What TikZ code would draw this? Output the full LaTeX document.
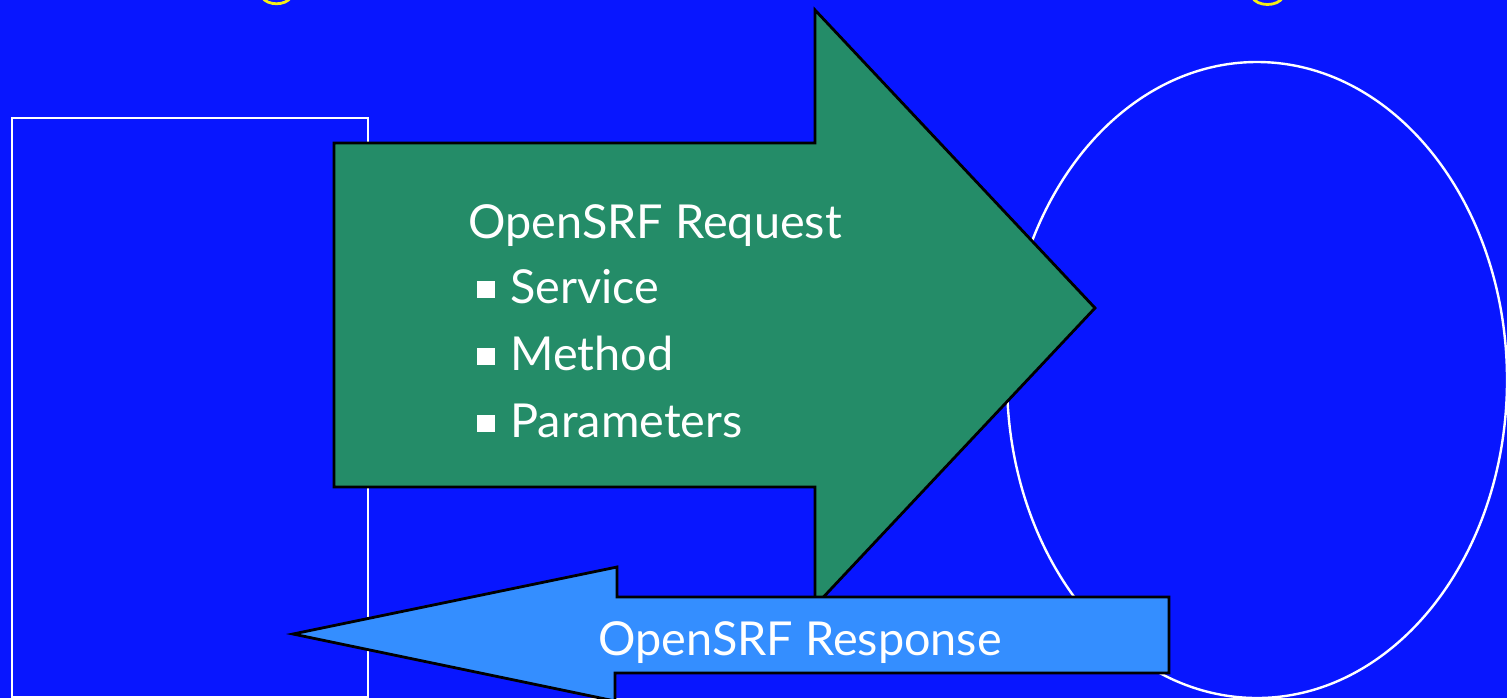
\documentclass[tikz,border=0pt]{standalone}
\usepackage{fontspec}
\setmainfont{Lato}
\definecolor{slideblue}{RGB}{8,22,255}
\definecolor{reqgreen}{RGB}{36,140,104}
\definecolor{respblue}{RGB}{52,142,255}
\definecolor{titleyellow}{RGB}{245,240,20}

\begin{document}
\begin{tikzpicture}[x=0.5pt, y=-0.5pt,
	txt/.style = {text=white, font=\fontsize{23.4}{28}\selectfont, anchor=base west, inner sep=0pt},
	bullet/.style = {txt},
	bigarrow/.style = {draw=black, line width=1.4pt, line join=miter}]
		% Tausta
		\fill[slideblue] (0,0) rectangle (1507,698);
		\useasboundingbox (0,0) rectangle (1507,698);
		\clip (0,0) rectangle (1507,698);
		% Otsikon jaamat
		\draw[titleyellow, line width=1.4pt] (262,-3) .. controls (267,6) and (286,6) .. (291,-3);
		\draw[titleyellow, line width=1.4pt] (1252,-3) .. controls (1257,7) and (1278,7) .. (1283,-3);
		% Asiakas ja palvelin
		\draw[white, line width=1pt] (12,697) -- (12,118) -- (368,118) -- (368,697) -- cycle;
		\draw[white, line width=1.2pt] (1257,380) ellipse (250 and 318);
		% Pyynto
		\filldraw[reqgreen, bigarrow] (334,143) -- (815,143) -- (815,10) -- (1095,308)
			-- (815,606) -- (815,487) -- (334,487) -- cycle;
		% Vastaus
		\filldraw[respblue, bigarrow] (1169,597) -- (617,597) -- (617,567) -- (293,634)
			-- (615,701) -- (615,673) -- (1169,673) -- cycle;
		% Tekstit
		\node[txt] (req) at (468,238) {OpenSRF Request};
		\node[bullet] (service) at (477,303) {\raisebox{2.5pt}{\rule{9pt}{8.5pt}}\hspace{7.5pt}Service};
		\node[bullet] (method) at (477,370) {\raisebox{2.5pt}{\rule{9pt}{8.5pt}}\hspace{7.5pt}Method};
		\node[bullet] (params) at (477,437) {\raisebox{2.5pt}{\rule{9pt}{8.5pt}}\hspace{7.5pt}Parameters};
		\node[txt] (resp) at (598,655) {OpenSRF Response};
\end{tikzpicture}
\end{document}
